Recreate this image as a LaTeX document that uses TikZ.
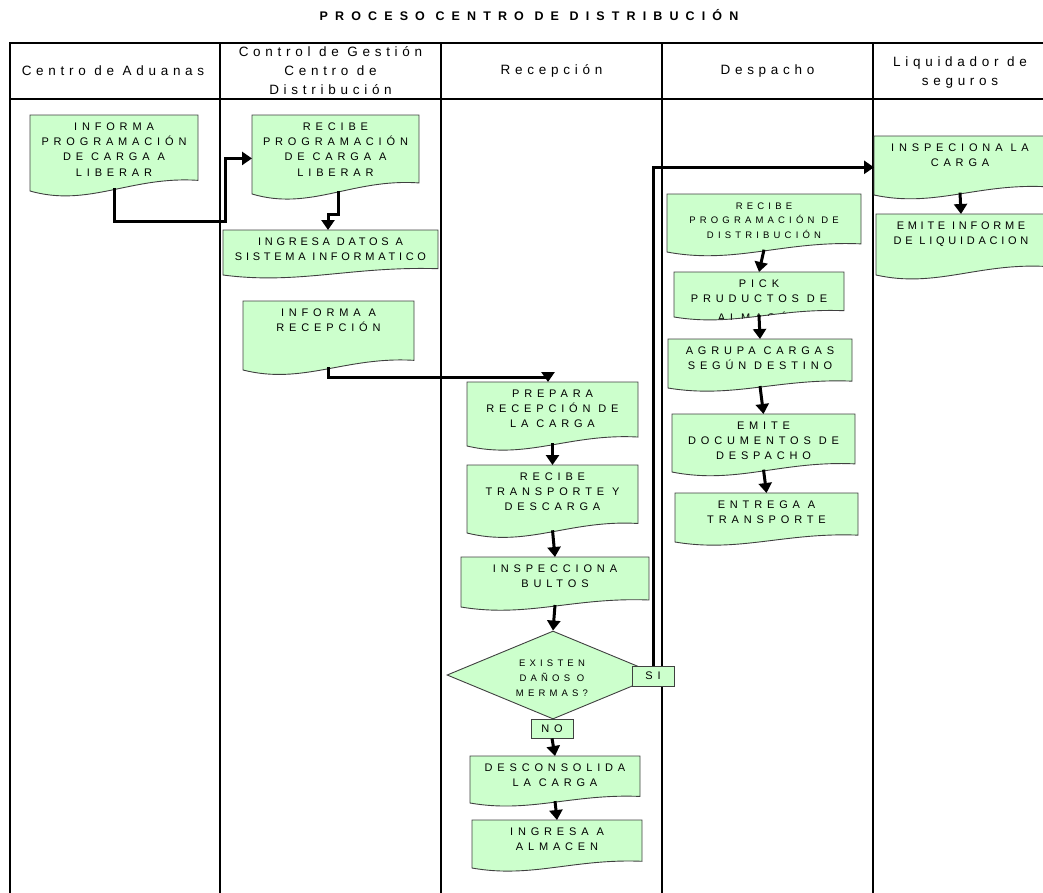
\documentclass[tikz,border=0pt]{standalone}
\usepackage{fontspec}
\setmainfont{Liberation Sans}
\newfontfamily\boxfont[LetterSpace=44]{Liberation Sans}
\newfontfamily\boxfontnarrow[LetterSpace=34]{Liberation Sans}
\newfontfamily\headfont[LetterSpace=35]{Liberation Sans}
\newfontfamily\titlefont[LetterSpace=57]{Liberation Sans}
\usetikzlibrary{arrows.meta,shapes.geometric}
\definecolor{boxfill}{HTML}{CCFFCC}
\definecolor{boxline}{HTML}{404040}

% zero-width strut fixing the height of the first text line
\newcommand\fl{\rule{0pt}{11pt}}

\tikzset{
  lane/.style={line width=2.6pt, line cap=rect},
  docfill/.style={fill=boxfill},
  docline/.style={draw=boxline, line width=0.9pt},
  doctext/.style={anchor=north, inner sep=0pt, align=center, text=black,
    font=\boxfont\fontsize{11}{15.3}\selectfont},
  tighttext/.style={font=\boxfontnarrow\fontsize{11}{15.3}\selectfont},
  smalltext/.style={font=\boxfont\fontsize{9.5}{14.5}\selectfont},
  diatext/.style={font=\boxfont\fontsize{9.5}{15}\selectfont},
  docanchor/.style={rectangle, inner sep=0pt, outer sep=0pt},
  flow/.style={line width=3pt, -{Triangle[width=13pt,length=10pt]}},
  tag/.style={draw=boxline, fill=boxfill, line width=0.9pt, inner sep=0pt,
    font=\boxfont\fontsize{11}{13}\selectfont, text=black},
  head/.style={align=center, inner sep=0pt, text=black,
    font=\headfont\fontsize{13.5}{19}\selectfont},
}

% document-shaped step: [text style]{name}{left}{top}{right}{bottom}{text}
\newcommand\flowdoc[7][]{%
  \pgfmathsetmacro\fdW{#5-#3}%
  \pgfmathsetmacro\fdH{#6-#4}%
  \pgfmathsetmacro\fdCx{(#3+#5)/2}%
  \pgfmathsetmacro\fdR{#6-0.14*\fdH}%
  \pgfmathsetmacro\fdAx{#3+0.6*\fdW}%
  \pgfmathsetmacro\fdAy{#6-0.2*\fdH}%
  \pgfmathsetmacro\fdBx{#3+0.35*\fdW}%
  \pgfmathsetmacro\fdBy{#6+0.22*\fdH}%
  \pgfmathsetmacro\fdMid{#6-0.04*\fdH}%
  \pgfmathsetmacro\fdNH{\fdMid-#4}%
  \pgfmathsetmacro\fdCy{(#4+\fdMid)/2}%
  \def\fdpath{(#3,#4) -- (#5,#4) -- (#5,\fdR) .. controls (\fdAx,\fdAy) and (\fdBx,\fdBy) .. (#3,#6) -- cycle}%
  \fill[docfill] \fdpath;
  \begin{scope}
    \clip \fdpath;
    \node[doctext,#1] (#2-text) at (\fdCx,#4+4) {\fl #7};
  \end{scope}
  \draw[docline] \fdpath;
  \node[docanchor, minimum width=\fdW pt, minimum height=\fdNH pt] (#2) at (\fdCx,\fdCy) {};
}

\begin{document}
\begin{tikzpicture}[x=1pt,y=-1pt]
\useasboundingbox (0,0) rectangle (1043,892);
\clip (0,0) rectangle (1043,892);

% title
\node[font=\titlefont\bfseries\fontsize{12.5}{14}\selectfont, text=black] (title) at (529,15)
  {PROCESO CENTRO DE DISTRIBUCIÓN};

% swimlane grid
\draw[lane] (10,43) -- (1060,43);
\draw[lane] (10,99) -- (1060,99);
\foreach \x in {10,220,441,662,873} \draw[lane] (\x,43) -- (\x,905);

% lane headings
\node[head] (h1) at (113,71) {Centro de Aduanas};
\node[head] (h2) at (330.5,71) {Control de Gestión\\Centro de\\Distribución};
\node[head] (h3) at (551.5,71) {Recepción};
\node[head] (h4) at (767.5,71) {Despacho};
\node[head] (h5) at (960,73) {Liquidador de\\seguros};

% Centro de Aduanas
\flowdoc{inf1}{30}{115}{198}{191}{INFORMA\\PROGRAMACIÓN\\DE CARGA A\\LIBERAR}

% Control de Gestion
\flowdoc{rec1}{252}{115}{419}{194}{RECIBE\\PROGRAMACIÓN\\DE CARGA A\\LIBERAR}
\flowdoc[tighttext]{ing1}{223}{230}{438}{275}{INGRESA DATOS A\\SISTEMA INFORMATICO}
\flowdoc{inf2}{243}{301}{414}{370}{INFORMA A\\RECEPCIÓN}

% Recepcion
\flowdoc{prep}{467}{382}{638}{446}{PREPARA\\RECEPCIÓN DE\\LA CARGA}
\flowdoc{rtr}{467}{465}{638}{533}{RECIBE\\TRANSPORTE Y\\DESCARGA}
\flowdoc{insb}{461}{557}{649}{607}{INSPECCIONA\\BULTOS}
\node[diamond, draw=boxline, fill=boxfill, line width=0.9pt, inner sep=0pt,
      minimum width=212pt, minimum height=88pt] (dia) at (553,675) {};
\node[doctext, diatext] (dia-text) at (552,655) {\fl EXISTEN\\DAÑOS O\\MERMAS?};
\flowdoc{desc}{470}{756}{640}{803}{DESCONSOLIDA\\LA CARGA}
\flowdoc{alm}{472}{820}{642}{868}{INGRESA A\\ALMACEN}

% Despacho
\flowdoc[smalltext]{rpd}{667}{194}{861}{252}{RECIBE\\PROGRAMACIÓN DE\\DISTRIBUCIÓN}
\flowdoc{pick}{674}{272}{844}{317}{PICK\\PRUDUCTOS DE\\[3.5pt]ALMACÉN}
\flowdoc{agr}{668}{339}{852}{388}{AGRUPA CARGAS\\SEGÚN DESTINO}
\flowdoc{emd}{672}{414}{855}{472}{EMITE\\DOCUMENTOS DE\\DESPACHO}
\flowdoc{ent}{675}{493}{858}{542}{ENTREGA A\\TRANSPORTE}

% Liquidador de seguros
\flowdoc{insc}{874}{136}{1046}{195}{INSPECIONA LA\\CARGA}
\flowdoc[tighttext]{emi}{876}{214}{1046}{275}{EMITE INFORME\\DE LIQUIDACION}

% connectors
\coordinate (j1) at (225,221.5);
\draw[flow] (inf1.south) |- (j1) |- ([yshift=-5.5pt]rec1.west);
\draw[flow] ([xshift=2.5pt]rec1.south) -- ++(0,24) -| ([xshift=-2.5pt]ing1.north);
\draw[flow] (inf2.south) -- ++(0,10) -| ([xshift=-4.5pt]prep.north);
\draw[flow] (prep.south) -- (rtr.north);
\draw[flow] (rtr.south) -- (insb.north);
\draw[flow] (insb.south) -- (dia.north);
\draw[flow] (rpd.south) -- (pick.north);
\draw[flow] (pick.south) -- (agr.north);
\draw[flow] (agr.south) -- (emd.north);
\draw[flow] (emd.south) -- (ent.north);
\draw[flow] (insc.south) -- (emi.north);

% decision outcomes
\node[tag, minimum width=42pt, minimum height=19pt] (no) at (552,728.5) {NO};
\node[tag, minimum width=42pt, minimum height=20pt] (si) at (653,676) {SI};
\draw[flow] (no.south) -- (desc.north);
\draw[flow] (desc.south) -- (alm.north);
\draw[flow] (si.north) |- ([yshift=-3pt]insc.west);
\end{tikzpicture}
\end{document}
